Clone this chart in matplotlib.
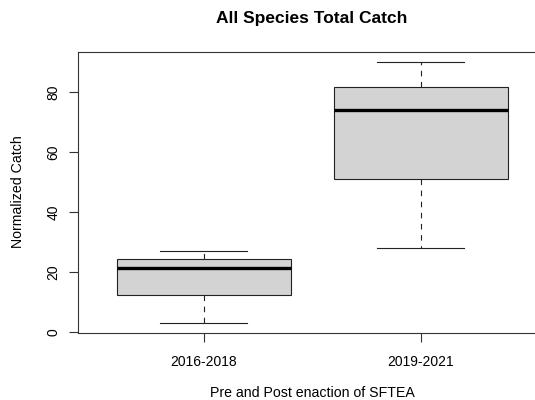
import matplotlib
matplotlib.use("Agg")
import matplotlib.pyplot as plt

plt.rcParams['font.family'] = ['Liberation Sans', 'DejaVu Sans']

# box statistics per period (normalized catch)
periods = ['2016-2018', '2019-2021']
whislo = [3, 28]
q1 = [12.3, 51]
med = [21.3, 74]
q3 = [24.2, 81.8]
whishi = [27, 90]

stats = []
for i in range(len(periods)):
    stats.append(dict(label=periods[i], whislo=whislo[i], q1=q1[i], med=med[i],
                      q3=q3[i], whishi=whishi[i], fliers=[]))

fig = plt.figure(figsize=(5.35, 4.0), dpi=100)
# axes run to the right edge of the figure; the frame is open on that side
ax = fig.add_axes([0.1458, 0.1665, 1 - 0.1458, 0.7045])
ax.patch.set_visible(False)

ax.bxp(stats, positions=[1, 2], widths=0.8, patch_artist=True,
       boxprops=dict(facecolor='#d3d3d3', edgecolor='#222222', linewidth=0.8),
       medianprops=dict(color='black', linewidth=2.4, solid_capstyle='butt'),
       whiskerprops=dict(color='#222222', linewidth=0.8, linestyle=(0, (5, 5))),
       capprops=dict(color='#222222', linewidth=0.8),
       capwidths=0.4)

ax.set_xlim(0.42, 2.526)
ax.set_ylim(-0.48, 93.48)
ax.set_yticks([0, 20, 40, 60, 80])
ax.set_xticks([1, 2])
ax.set_xticklabels(periods)

for side in ['left', 'top', 'bottom']:
    ax.spines[side].set_linewidth(0.8)
    ax.spines[side].set_color('#333333')
ax.spines['right'].set_visible(False)

ax.tick_params(axis='both', length=6.5, width=0.8, color='#333333', labelsize=10)
ax.tick_params(axis='x', pad=9)
ax.tick_params(axis='y', pad=6)
for lab in ax.get_yticklabels():
    lab.set_rotation(90)
    lab.set_va('center')

fig.text(0.5832, 1 - 18 / 400, 'All Species Total Catch', ha='center', va='center',
         fontsize=12.5, fontweight='bold')
fig.text(0.5832, 1 - 393 / 400, 'Pre and Post enaction of SFTEA', ha='center', va='center',
         fontsize=10.2)
fig.text(18.5 / 535, 1 - 192 / 400, 'Normalized Catch', ha='center', va='center',
         rotation=90, fontsize=10.2)

fig.savefig('out.png', dpi=100)
